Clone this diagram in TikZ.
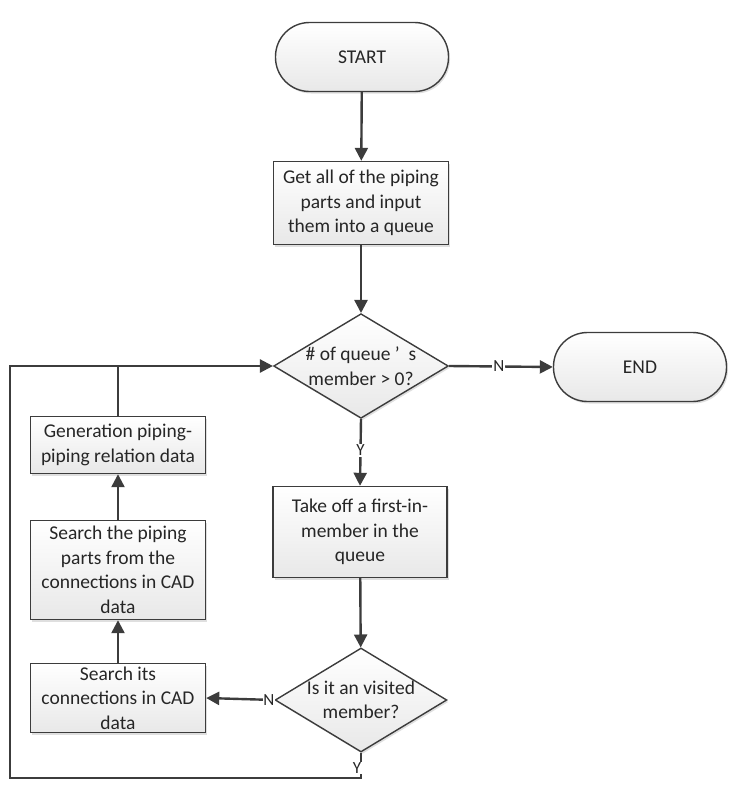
\documentclass[tikz,border=0pt]{standalone}
\usepackage{fontspec}
\setmainfont{Carlito}
\usetikzlibrary{shapes.geometric,arrows.meta,shadows}
\definecolor{ln}{HTML}{3c3c3c}
\begin{document}
\begin{tikzpicture}[x=1pt,y=-1pt,
  every node/.style={font=\fontsize{19.5}{24.5}\selectfont, text=black!85},
  base/.style={draw=ln, line width=1.4pt, top color=white, bottom color=black!9,
     drop shadow={opacity=0.25, shadow xshift=1.5pt, shadow yshift=-2pt}},
  term/.style={base, rounded corners=34pt, minimum width=173pt, minimum height=69pt},
  proc/.style={base, rectangle, align=center, inner sep=1pt},
  dec/.style={base, diamond, aspect=1.67, inner sep=0pt, minimum width=172pt, minimum height=103pt, align=center},
  conn/.style={draw=ln, line width=2.4pt},
  arr/.style={conn, -{Triangle[length=13pt,width=13pt]}},
  lab/.style={fill=white, inner sep=1pt, font=\fontsize{17}{20}\selectfont}
]
\useasboundingbox (0,0) rectangle (738,790);

\node[term] (start) at (362,57) {START};
\node[proc, minimum width=175pt, minimum height=83pt] (get) at (361,203) {Get all of the piping\\parts and input\\them into a queue};
\node[dec] (d1) at (361,366) {\# of queue\ ' \ s\\member > 0?};
\node[term] (end) at (640,367) {END};
\node[proc, minimum width=174pt, minimum height=91pt] (take) at (360,532) {Take off a first-in-\\member in the\\queue};
\node[dec, minimum width=169pt, minimum height=104pt] (d2) at (361,700) {Is it an visited\\member?};
\node[proc, minimum width=175pt, minimum height=69pt] (sits) at (118,698) {Search its\\connections in CAD\\data};
\node[proc, minimum width=175pt, minimum height=99pt] (sparts) at (118,570) {Search the piping\\parts from the\\connections in CAD\\data};
\node[proc, minimum width=175pt, minimum height=57pt] (gen) at (118,445) {Generation piping-\\piping relation data};

\coordinate (j1) at (118,366);
\coordinate (b1) at (361,778);
\coordinate (b2) at (10,778);
\coordinate (b3) at (10,366);

\draw[arr] (start) -- (get);
\draw[arr] (get) -- (d1);
\draw[arr] (d1.east) -- node[lab, pos=0.48]{N} (end.west);
\draw[arr] (d1.south) -- node[lab, pos=0.47]{Y} (take.north);
\draw[arr] (take) -- (d2);
\draw[arr] (d2.west) -- node[lab, pos=0.08, inner sep=0.5pt]{N} (sits.east);
\draw[arr] (sits) -- (sparts);
\draw[arr] (sparts) -- (gen);
\draw[conn] (gen.north) -- (j1);
\draw[arr] (d2.south) -- (b1) -- (b2) -- (b3) -- (d1.west);
\node[lab, inner sep=0.5pt] (y2) at (357,768) {Y};
\end{tikzpicture}
\end{document}
